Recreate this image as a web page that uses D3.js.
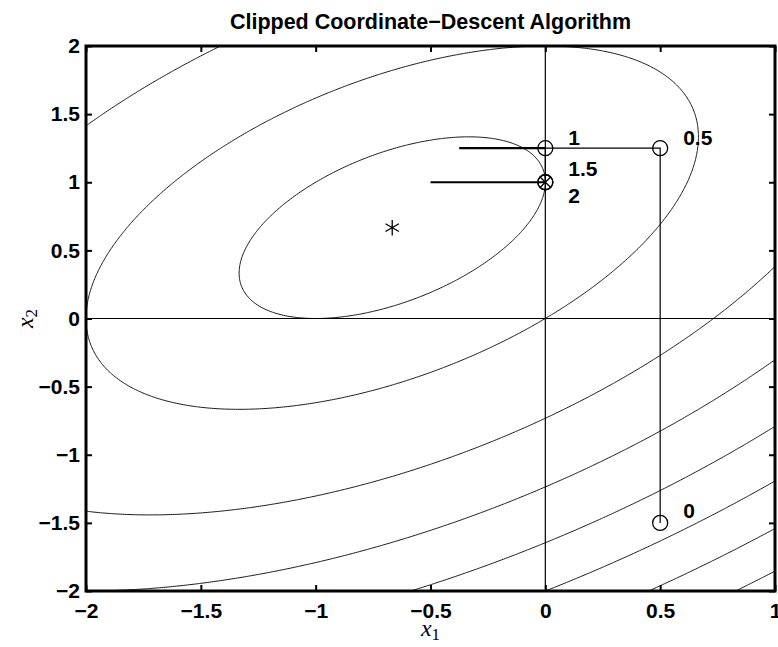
<!DOCTYPE html>
<html>
<head>
<meta charset="utf-8">
<script src="https://cdn.jsdelivr.net/npm/d3@7"></script>
<style>
  body { margin: 0; background: #fff; }
  svg { display: block; }
  .tick text { font-family: "Liberation Sans", Arial, sans-serif; font-weight: bold; font-size: 21px; fill: #000; }
  .tick line { stroke: #000; stroke-width: 2; }
</style>
</head>
<body>
<svg id="chart" width="778" height="647"></svg>
<script>
// iterates of the clipped coordinate-descent run
const iterLabels = ['0', '0.5', '1', '1.5', '2']
const iterX1 = [0.5, 0.5, 0, 0, 0]
const iterX2 = [-1.5, 1.25, 1.25, 1, 1]
const labelX1 = [0.6, 0.6, 0.1, 0.1, 0.1]
const labelX2 = [-1.41, 1.33, 1.33, 1.1, 0.9]

// unclipped x1 steps (before clipping to x1 >= 0)
const targetX1 = [-0.375, -0.5]
const targetX2 = [1.25, 1]

// unconstrained minimum
const minimum = [-2 / 3, 2 / 3]

// objective f = a*x1^2 + b*x1*x2 + c*x2^2 + d*x1 + e*x2
const quadCoef = [1, -1, 1, 2, -2]
const contourLevels = [-1, 0, 2, 4, 6, 8, 10, 12]

const xTicks = [-2, -1.5, -1, -0.5, 0, 0.5, 1]
const yTicks = [-2, -1.5, -1, -0.5, 0, 0.5, 1, 1.5, 2]

const margin = { left: 86, top: 46, right: 3, bottom: 56 }
const W = 778
const H = 647
const svg = d3.select('#chart')

const x = d3.scaleLinear().domain([-2, 1]).range([margin.left, W - margin.right])
const y = d3.scaleLinear().domain([-2, 2]).range([H - margin.bottom, margin.top])

const f = (a, b) => quadCoef[0] * a * a + quadCoef[1] * a * b + quadCoef[2] * b * b + quadCoef[3] * a + quadCoef[4] * b

svg.append('clipPath').attr('id', 'plotclip')
  .append('rect')
  .attr('x', x(-2)).attr('y', y(2))
  .attr('width', x(1) - x(-2)).attr('height', y(-2) - y(2))

const plot = svg.append('g').attr('clip-path', 'url(#plotclip)')

// contour grid, a little wider than the axes so the border rings fall outside the clip
const nx = 330
const ny = 430
const gx = d3.scaleLinear().domain([0, nx - 1]).range([-2.06, 1.06])
const gy = d3.scaleLinear().domain([0, ny - 1]).range([-2.06, 2.06])
const grid = new Array(nx * ny)
for (let j = 0; j < ny; j++) {
  for (let i = 0; i < nx; i++) {
    grid[j * nx + i] = f(gx(i), gy(j))
  }
}
const rings = d3.contours().size([nx, ny]).thresholds(contourLevels)(grid)
const proj = d3.geoTransform({
  point: function(px, py) {
    this.stream.point(x(gx(px - 0.5)), y(gy(py - 0.5)))
  }
})
plot.selectAll('path.contour')
  .data(rings)
  .enter()
  .append('path')
  .attr('class', 'contour')
  .attr('d', d3.geoPath(proj))
  .attr('fill', 'none')
  .attr('stroke', '#000')
  .attr('stroke-width', 0.9)

// coordinate axes through the origin
plot.append('line')
  .attr('x1', x(-2)).attr('x2', x(1)).attr('y1', y(0)).attr('y2', y(0))
  .attr('stroke', '#000').attr('stroke-width', 1.2)
plot.append('line')
  .attr('x1', x(0)).attr('x2', x(0)).attr('y1', y(-2)).attr('y2', y(2))
  .attr('stroke', '#000').attr('stroke-width', 1.2)

// iterate path
const line = d3.line().x(i => x(iterX1[i])).y(i => y(iterX2[i]))
plot.append('path')
  .attr('d', line(d3.range(iterX1.length)))
  .attr('fill', 'none')
  .attr('stroke', '#000')
  .attr('stroke-width', 1.2)

// unclipped steps
plot.selectAll('line.target')
  .data(targetX1)
  .enter()
  .append('line')
  .attr('class', 'target')
  .attr('x1', d => x(d))
  .attr('x2', x(0))
  .attr('y1', (d, i) => y(targetX2[i]))
  .attr('y2', (d, i) => y(targetX2[i]))
  .attr('stroke', '#000')
  .attr('stroke-width', 2.2)

plot.selectAll('circle.iter')
  .data(iterX1)
  .enter()
  .append('circle')
  .attr('class', 'iter')
  .attr('cx', d => x(d))
  .attr('cy', (d, i) => y(iterX2[i]))
  .attr('r', 7.5)
  .attr('fill', 'none')
  .attr('stroke', '#000')
  .attr('stroke-width', 1.3)

// cross on the final iterate
const last = iterX1.length - 1
plot.append('path')
  .attr('d', d3.symbol(d3.symbolX, 75)())
  .attr('transform', `translate(${x(iterX1[last])},${y(iterX2[last])})`)
  .attr('fill', 'none')
  .attr('stroke', '#000')
  .attr('stroke-width', 1.3)

plot.append('path')
  .attr('d', d3.symbol(d3.symbolAsterisk, 170)())
  .attr('transform', `translate(${x(minimum[0])},${y(minimum[1])})`)
  .attr('fill', 'none')
  .attr('stroke', '#000')
  .attr('stroke-width', 1.3)

svg.selectAll('text.iterlabel')
  .data(iterLabels)
  .enter()
  .append('text')
  .attr('class', 'iterlabel')
  .attr('x', (d, i) => x(labelX1[i]))
  .attr('y', (d, i) => y(labelX2[i]))
  .attr('dy', '0.36em')
  .attr('font-family', '"Liberation Sans", Arial, sans-serif')
  .attr('font-weight', 'bold')
  .attr('font-size', 21)
  .text(d => d)

// axes (MATLAB style: ticks inward on all four sides)
const fmt = d3.format('~g')
svg.append('g')
  .attr('transform', `translate(0,${y(-2)})`)
  .call(d3.axisBottom(x).tickValues(xTicks).tickFormat(fmt).tickSize(-6).tickPadding(12))
svg.append('g')
  .attr('transform', `translate(0,${y(2)})`)
  .call(d3.axisTop(x).tickValues(xTicks).tickFormat('').tickSize(-6))
svg.append('g')
  .attr('transform', `translate(${x(-2)},0)`)
  .call(d3.axisLeft(y).tickValues(yTicks).tickFormat(fmt).tickSize(-6).tickPadding(6))
svg.append('g')
  .attr('transform', `translate(${x(1)},0)`)
  .call(d3.axisRight(y).tickValues(yTicks).tickFormat('').tickSize(-6))
svg.selectAll('.domain').remove()

svg.append('rect')
  .attr('x', x(-2)).attr('y', y(2))
  .attr('width', x(1) - x(-2)).attr('height', y(-2) - y(2))
  .attr('fill', 'none')
  .attr('stroke', '#000')
  .attr('stroke-width', 3)

svg.append('text')
  .attr('x', (x(-2) + x(1)) / 2)
  .attr('y', 29)
  .attr('text-anchor', 'middle')
  .attr('font-family', '"Liberation Sans", Arial, sans-serif')
  .attr('font-weight', 'bold')
  .attr('font-size', 21.5)
  .text('Clipped Coordinate\u2212Descent Algorithm')

const xlab = svg.append('text')
  .attr('x', (x(-2) + x(1)) / 2)
  .attr('y', 636)
  .attr('text-anchor', 'middle')
  .attr('font-family', '"Liberation Serif", "Times New Roman", serif')
  .attr('font-size', 24)
xlab.append('tspan').attr('font-style', 'italic').text('x')
xlab.append('tspan').attr('font-size', 17).attr('dy', 4).text('1')

const ylab = svg.append('text')
  .attr('transform', `translate(33,${(y(-2) + y(2)) / 2}) rotate(-90)`)
  .attr('text-anchor', 'middle')
  .attr('font-family', '"Liberation Serif", "Times New Roman", serif')
  .attr('font-size', 24)
ylab.append('tspan').attr('font-style', 'italic').text('x')
ylab.append('tspan').attr('font-size', 17).attr('dy', 4).text('2')
</script>
</body>
</html>
